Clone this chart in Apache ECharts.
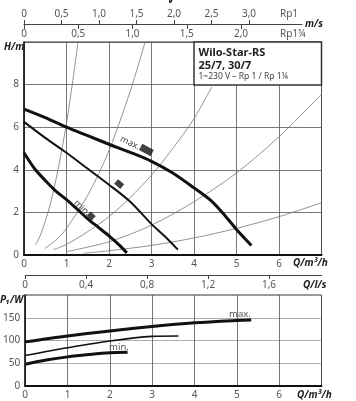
<!DOCTYPE html>
<html>
<head>
<meta charset="utf-8">
<script src="https://cdn.jsdelivr.net/npm/echarts@6/dist/echarts.min.js"></script>
<style>html,body{margin:0;padding:0;background:#fff}#c{width:356px;height:401px}</style>
</head>
<body>
<div id="c"></div>
<script>
// ---------- data ----------
// pump curves H/m vs Q/m3/h
const qMax = [0, 0.5, 1, 1.5, 2, 2.5, 3, 3.5, 4, 4.4, 4.75, 5, 5.35];
const hMax = [6.85, 6.45, 6.0, 5.6, 5.2, 4.82, 4.4, 3.85, 3.15, 2.55, 1.8, 1.2, 0.45];
const qMid = [0, 0.5, 1, 1.5, 2, 2.5, 3, 3.3, 3.62];
const hMid = [6.25, 5.5, 4.8, 4.05, 3.3, 2.5, 1.45, 0.9, 0.25];
const qMin = [0, 0.25, 0.5, 0.75, 1, 1.25, 1.5, 1.75, 2, 2.25, 2.42];
const hMin = [4.8, 4.05, 3.5, 3.0, 2.6, 2.15, 1.7, 1.3, 0.9, 0.45, 0.1];
// thin system curves
const qSysA = [0.27, 0.4, 0.6, 0.8, 1.0, 1.15, 1.27];
const hSysA = [0.47, 1.0, 2.25, 4.0, 6.2, 8.2, 10];
const qSysB = [0.49, 0.75, 1, 1.5, 2, 2.5, 2.85];
const hSysB = [0.3, 0.7, 1.25, 2.8, 4.9, 7.7, 10];
const qSysC = [0.69, 1, 1.5, 2, 2.5, 3, 3.5, 4, 4.42];
const hSysC = [0.25, 0.5, 1.1, 1.8, 2.7, 3.75, 5.0, 6.4, 7.9];
const qSysD = [1.0, 2, 3, 4, 5, 6, 7];
const hSysD = [0.16, 0.62, 1.4, 2.5, 3.85, 5.55, 7.55];
const qSysE = [1.4, 2, 3, 4, 5, 6, 7];
const hSysE = [0.08, 0.2, 0.45, 0.8, 1.25, 1.8, 2.45];
// speed setting markers
const markQ = [2.88, 2.24, 1.58];
const markH = [4.93, 3.33, 1.83];
// power curves P1/W vs Q/m3/h
const qPMax = [0, 1, 2, 3, 4, 5, 5.34];
const pMax = [97, 110, 121, 131, 139, 144, 145];
const qPMid = [0, 1, 2, 3, 3.62];
const pMid = [67, 84, 99, 109, 110];
const qPMin = [0, 0.5, 1, 1.5, 2, 2.42];
const pMin = [48, 57, 64, 69, 73, 74];
// tick labels
const qTicks = [0, 1, 2, 3, 4, 5, 6];
const hTicks = [0, 2, 4, 6, 8];
const pTicks = [0, 50, 100, 150];
const vRp1Ticks = [0, 0.5, 1.0, 1.5, 2.0, 2.5, 3.0];
const vRp114Ticks = [0, 0.5, 1.0, 1.5, 2.0];
const qlsTicks = [0, 0.4, 0.8, 1.2, 1.6];

// ---------- chart ----------
const zip = (a, b) => a.map((v, i) => [v, b[i]]);
const FONT = 'Noto Sans';
const lab = {fontFamily: FONT, fontSize: 10, color: '#555'};
const comma = v => v === 0 ? '0' : v.toFixed(1).replace('.', ',');
const GRIDC = '#555';

const chart = echarts.init(document.getElementById('c'), null, {renderer: 'canvas'});

function thin(q, h) {
  return {type: 'line', xAxisIndex: 0, yAxisIndex: 0, data: zip(q, h), smooth: 0.3, showSymbol: false, silent: true,
    lineStyle: {color: '#777', width: 0.8}, z: 2};
}
function pump(q, h, w, xi, yi) {
  return {type: 'line', xAxisIndex: xi, yAxisIndex: yi, data: zip(q, h), smooth: 0.3, showSymbol: false, silent: true,
    lineStyle: {color: '#111', width: w}, z: 5};
}

const gtext = (x, y, text, style) => ({type: 'text', x, y, z: 100,
  style: Object.assign({text, fontFamily: FONT, fontSize: 10, fill: '#222', verticalAlign: 'middle'}, style)});

chart.setOption({
  animation: false,
  backgroundColor: '#fff',
  grid: [
    {left: 24, top: 42, width: 297.5, height: 213, show: true, borderColor: '#333', borderWidth: 1},
    {left: 24, top: 295, width: 297.5, height: 91, show: true, borderColor: '#333', borderWidth: 1},
    {left: 24, top: 24, width: 278, height: 1},
    {left: 24, top: 24, width: 278, height: 1}
  ],
  xAxis: [
    {gridIndex: 0, type: 'value', min: 0, max: 7, interval: 1,
      axisLine: {show: true, onZero: false, lineStyle: {color: '#111', width: 2}},
      axisTick: {show: false},
      axisLabel: Object.assign({}, lab, {margin: 4, customValues: qTicks}),
      splitLine: {show: true, lineStyle: {color: GRIDC, width: 0.8}}},
    {gridIndex: 1, type: 'value', min: 0, max: 7, interval: 1,
      axisLine: {show: true, onZero: false, lineStyle: {color: '#111', width: 2}},
      axisTick: {show: false},
      axisLabel: Object.assign({}, lab, {margin: 4, customValues: qTicks}),
      splitLine: {show: true, lineStyle: {color: GRIDC, width: 0.8}}},
    {gridIndex: 2, type: 'value', position: 'top', min: 0, max: 278 / 75, interval: 0.5,
      axisLine: {show: true, onZero: false, lineStyle: {color: '#444', width: 1}},
      axisTick: {show: true, inside: false, length: 4, customValues: vRp1Ticks, lineStyle: {color: '#444'}},
      axisLabel: Object.assign({}, lab, {margin: 5, customValues: vRp1Ticks, formatter: comma}),
      splitLine: {show: false}},
    {gridIndex: 3, type: 'value', position: 'top', min: 0, max: 278 / 108.5, interval: 0.5,
      axisLine: {show: false},
      axisTick: {show: true, inside: true, length: 4, customValues: vRp114Ticks, lineStyle: {color: '#444'}},
      axisLabel: Object.assign({}, lab, {inside: true, margin: 5, customValues: vRp114Ticks, formatter: comma}),
      splitLine: {show: false}},
    {gridIndex: 1, type: 'value', position: 'top', offset: 20, min: 0, max: 7 / 3.6, interval: 0.4,
      axisLine: {show: true, onZero: false, lineStyle: {color: '#444', width: 1}},
      axisTick: {show: true, inside: true, length: 4, customValues: qlsTicks, lineStyle: {color: '#444'}},
      axisLabel: Object.assign({}, lab, {inside: true, margin: 5, customValues: qlsTicks, formatter: v => v === 0 ? '0' : v.toFixed(1).replace('.', ',')}),
      splitLine: {show: false}}
  ],
  yAxis: [
    {gridIndex: 0, type: 'value', min: 0, max: 10, interval: 2,
      axisLine: {show: true, onZero: false, lineStyle: {color: '#111', width: 1.5}},
      axisTick: {show: false},
      axisLabel: Object.assign({}, lab, {margin: 5, customValues: hTicks}),
      splitLine: {show: true, lineStyle: {color: GRIDC, width: 0.8}}},
    {gridIndex: 1, type: 'value', min: 0, max: 200, interval: 50,
      axisLine: {show: true, onZero: false, lineStyle: {color: '#111', width: 1.5}},
      axisTick: {show: false},
      axisLabel: Object.assign({}, lab, {margin: 5, customValues: pTicks}),
      splitLine: {show: true, lineStyle: {color: '#999', width: 0.8}}},
    {gridIndex: 2, show: false, min: 0, max: 1},
    {gridIndex: 3, show: false, min: 0, max: 1}
  ],
  series: [
    thin(qSysA, hSysA), thin(qSysB, hSysB), thin(qSysC, hSysC), thin(qSysD, hSysD), thin(qSysE, hSysE),
    pump(qMax, hMax, 3, 0, 0), pump(qMid, hMid, 2, 0, 0), pump(qMin, hMin, 3, 0, 0),
    {type: 'scatter', xAxisIndex: 0, yAxisIndex: 0, silent: true, z: 6,
      data: [
        {value: [markQ[0], markH[0]], symbolSize: [13, 7], symbolRotate: -28},
        {value: [markQ[1], markH[1]], symbolSize: [8, 6], symbolRotate: -40},
        {value: [markQ[2], markH[2]], symbolSize: [7, 6], symbolRotate: -45}
      ],
      symbol: 'rect', itemStyle: {color: '#111'}},
    pump(qPMax, pMax, 3, 1, 1), pump(qPMid, pMid, 1.6, 1, 1), pump(qPMin, pMin, 3, 1, 1)
  ],
  graphic: [
    {type: 'rect', z: 90, shape: {x: 194, y: 42, width: 127.5, height: 43},
      style: {fill: '#fff', stroke: '#333', lineWidth: 1.5}},
    gtext(198.5, 53, 'Wilo-Star-RS', {fontWeight: 'bold', fontSize: 11, fill: '#222'}),
    gtext(198.5, 66, '25/7, 30/7', {fontWeight: 'bold', fontSize: 11, fill: '#222'}),
    gtext(198.5, 76.5, '1~230 V – Rp 1 / Rp 1¼', {fontSize: 8.5, fill: '#444'}),
    gtext(168, 5, 'v', {fontWeight: 'bold', fontStyle: 'italic', fontSize: 11, verticalAlign: 'bottom'}),
    gtext(280, 14, 'Rp1', {fill: '#555'}),
    gtext(280, 34, 'Rp1¼', {fill: '#555'}),
    gtext(305, 24, 'm/s', {fontWeight: 'bold', fontStyle: 'italic'}),
    gtext(4, 47, 'H/m', {fontWeight: 'bold', fontStyle: 'italic'}),
    gtext(293, 263, 'Q/m³/h', {fontWeight: 'bold', fontStyle: 'italic'}),
    gtext(303, 285, 'Q/l/s', {fontWeight: 'bold', fontStyle: 'italic'}),
    gtext(0, 300, 'P₁/W', {fontWeight: 'bold', fontStyle: 'italic'}),
    gtext(297, 395, 'Q/m³/h', {fontWeight: 'bold', fontStyle: 'italic'}),
    {type: 'text', x: 130, y: 143, rotation: -0.45, z: 100,
      style: {text: 'max.', fontFamily: FONT, fontSize: 9, fill: '#444', align: 'center', verticalAlign: 'middle'}},
    {type: 'text', x: 82, y: 208, rotation: -0.75, z: 100,
      style: {text: 'min.', fontFamily: FONT, fontSize: 9, fill: '#444', align: 'center', verticalAlign: 'middle'}},
    gtext(240, 314, 'max.', {fill: '#555', align: 'center', fontSize: 9.5}),
    gtext(119, 347, 'min.', {fill: '#555', align: 'center', fontSize: 9.5})
  ]
});
</script>
</body>
</html>
